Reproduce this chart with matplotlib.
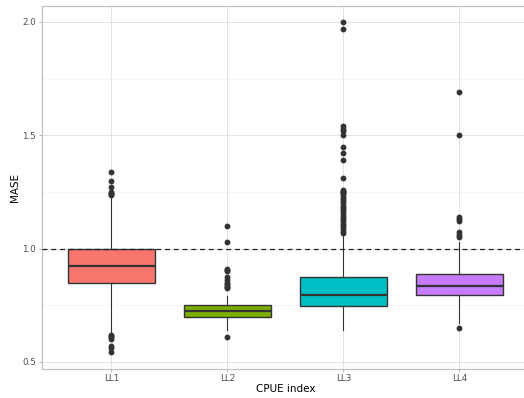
import matplotlib.pyplot as plt
import numpy as np

# Werte
indices = ['LL1', 'LL2', 'LL3', 'LL4']
farben = ['#F8766D', '#7CAE00', '#00BFC4', '#C77CFF']
q1 = [0.85, 0.70, 0.745, 0.795]
median = [0.925, 0.725, 0.795, 0.835]
q3 = [1.00, 0.75, 0.877, 0.89]
whisker_lo = [0.63, 0.64, 0.64, 0.67]
whisker_hi = [1.24, 0.79, 1.065, 1.03]
ausreisser = [
    [1.34, 1.30, 1.27, 1.25, 1.245, 1.24, 1.235, 0.62, 0.615, 0.61, 0.60, 0.57, 0.56, 0.545],
    [1.10, 1.03, 0.91, 0.905, 0.90, 0.875, 0.86, 0.85, 0.845, 0.835, 0.83, 0.825, 0.61],
    [2.0, 1.97, 1.54, 1.53, 1.52, 1.50, 1.45, 1.42, 1.39, 1.31, 1.26, 1.255, 1.25, 1.245,
     1.24, 1.23, 1.22, 1.21, 1.20, 1.19, 1.18, 1.17, 1.16, 1.15, 1.14, 1.13, 1.12, 1.11,
     1.10, 1.09, 1.08, 1.07],
    [1.69, 1.50, 1.14, 1.13, 1.12, 1.075, 1.06, 1.05, 0.65],
]

stats = []
for i in range(len(indices)):
    stats.append({'med': median[i], 'q1': q1[i], 'q3': q3[i],
                  'whislo': whisker_lo[i], 'whishi': whisker_hi[i],
                  'fliers': ausreisser[i], 'label': indices[i]})

fig = plt.figure(figsize=(5.24, 3.98), dpi=100)
ax = fig.add_axes([0.0796, 0.074, 0.930, 0.911])

pos = np.arange(1, len(indices) + 1)
bp = ax.bxp(stats, positions=pos, widths=0.75, patch_artist=True, zorder=3,
            boxprops=dict(edgecolor='#333333', linewidth=1.0),
            medianprops=dict(color='#333333', linewidth=1.6),
            whiskerprops=dict(color='#333333', linewidth=0.8),
            capprops=dict(linewidth=0),
            flierprops=dict(marker='o', markersize=3.2, markerfacecolor='#333333',
                            markeredgecolor='#333333'))
for patch, c in zip(bp['boxes'], farben):
    patch.set_facecolor(c)

ax.axhline(1.0, color='#222222', linestyle=(0, (4, 3)), linewidth=0.9, zorder=4)

ax.set_xlim(0.4, 4.6)
ax.set_ylim(0.471, 2.0706)
ax.set_yticks([0.5, 1.0, 1.5, 2.0])
ax.set_yticklabels(['0.5', '1.0', '1.5', '2.0'])
ax.set_yticks([0.75, 1.25, 1.75], minor=True)
ax.set_xticks(pos)
ax.set_xticklabels(indices)

ax.grid(True, which='major', color='#DEDEDE', linewidth=0.6, zorder=0)
ax.grid(True, which='minor', axis='y', color='#EFEFEF', linewidth=0.4, zorder=0)
ax.set_axisbelow(True)
for s in ax.spines.values():
    s.set_color('#BDBDBD')
    s.set_linewidth(0.8)
ax.spines['right'].set_visible(False)
ax.tick_params(which='major', length=2.5, color='#BDBDBD', labelcolor='#4D4D4D', labelsize=6.3, pad=1.5)
ax.tick_params(which='minor', length=0)

ax.set_xlabel('CPUE index', fontsize=7.5, labelpad=1)
ax.set_ylabel('MASE', fontsize=7.5)
ax.yaxis.set_label_coords(-0.045, 0.5)

fig.savefig('out.png', dpi=100)
